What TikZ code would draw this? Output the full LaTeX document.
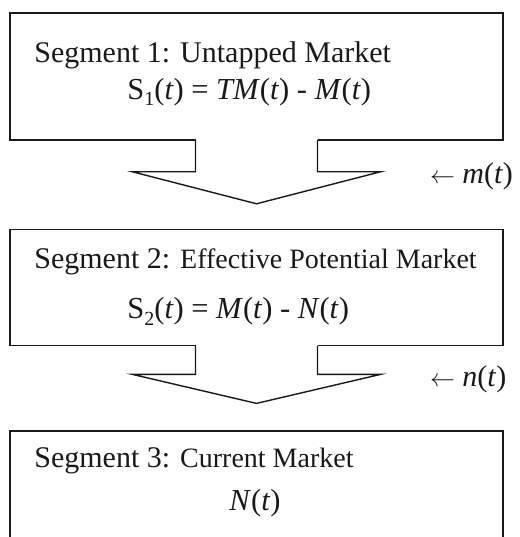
\documentclass[tikz,border=0pt]{standalone}
\usepackage{fontspec}
\setmainfont{Liberation Serif}
\usetikzlibrary{positioning,calc}
\definecolor{ink}{RGB}{25,25,25}
\tikzset{
  segbox/.style={draw=ink, line width=1.6pt, minimum width=493pt, inner sep=0pt},
  headtext/.style={anchor=base west, inner sep=0pt, text=ink, font=\fontsize{30}{36}\selectfont},
  formula/.style={anchor=base west, inner sep=0pt, text=ink, font=\fontsize{30.5}{36}\selectfont},
  ratelabel/.style={anchor=west, inner sep=0pt, text=ink, font=\fontsize{30}{36}\selectfont},
  blockarrow/.style={draw=ink, line width=1.4pt, line join=miter}
}
\newcommand{\smalltext}[1]{{\fontsize{28}{33}\selectfont #1}}
\newcommand{\segsub}[1]{\raisebox{-0.22em}{\fontsize{20}{20}\selectfont #1}}

\begin{document}
\begin{tikzpicture}[x=1pt,y=1pt]
\clip (0,0) rectangle (519,537);
% the three segments
\node[segbox, minimum height=127pt] (s1) at (256.5,460.5) {};
\node[segbox, minimum height=116pt, below=88pt of s1] (s2) {};
\node[segbox, minimum height=160pt, below=84pt of s2] (s3) {};

\node[headtext] (h1) at ($(s1.north west)+(25,-50)$) {Segment 1: Untapped Market};
\node[formula] (f1) at ($(s1.north west)+(118,-87)$) {S\segsub{1}(\textit{t}) = \textit{TM}(\textit{t}) - \textit{M}(\textit{t})};
\node[headtext] (h2) at ($(s2.north west)+(25,-40)$) {Segment 2: \smalltext{Effective Potential Market}};
\node[formula] (f2) at ($(s2.north west)+(118,-90)$) {S\segsub{2}(\textit{t}) = \textit{M}(\textit{t}) - \textit{N}(\textit{t})};
\node[headtext] (h3) at ($(s3.north west)+(25,-37)$) {Segment 3: \smalltext{Current Market}};
\node[formula] (f3) at ($(s3.north west)+(220,-80)$) {\textit{N}(\textit{t})};

% flows between segments
\fill[white] ([xshift=-61pt,yshift=2pt]s1.south) rectangle ([xshift=61pt,yshift=-4pt]s1.south);
\draw[blockarrow] ([xshift=-61pt,yshift=0.8pt]s1.south) -- ++(0,-31.8) -- ++(-63,0) -- ++(124,-32) -- ++(124,32) -- ++(-63,0) -- ++(0,31.8);
\fill[white] ([xshift=-61pt,yshift=2pt]s2.south) rectangle ([xshift=61pt,yshift=-4pt]s2.south);
\draw[blockarrow] ([xshift=-61pt,yshift=0.8pt]s2.south) -- ++(0,-28.8) -- ++(-63,0) -- ++(124,-29) -- ++(124,29) -- ++(-63,0) -- ++(0,28.8);

\node[ratelabel] (m) at ($(s1.south east)+(-74,-35)$) {$\leftarrow$ \textit{m}(\textit{t})};
\node[ratelabel] (n) at ($(s2.south east)+(-74,-33)$) {$\leftarrow$ \textit{n}(\textit{t})};
\end{tikzpicture}
\end{document}
